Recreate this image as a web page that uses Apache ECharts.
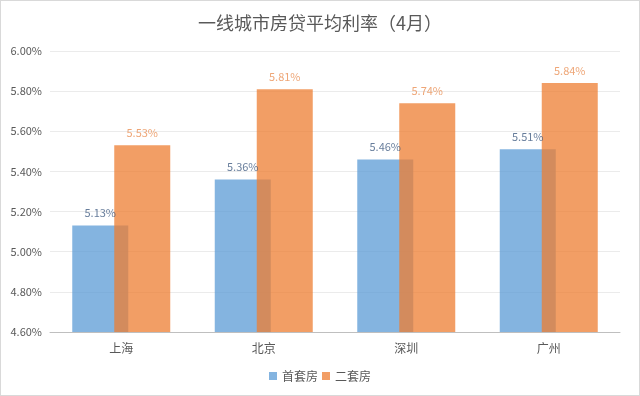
<!DOCTYPE html>
<html>
<head>
<meta charset="utf-8">
<script src="https://cdn.jsdelivr.net/npm/echarts@6/dist/echarts.min.js"></script>
<style>
html,body{margin:0;padding:0;background:#fff;}
#c{width:638px;height:394px;border:1px solid #d9d9d9;}
</style>
</head>
<body>
<div id="c"></div>
<script>
const categories = ['上海', '北京', '深圳', '广州'];
const firstHome = [5.13, 5.36, 5.46, 5.51];
const secondHome = [5.53, 5.81, 5.74, 5.84];
const seriesNames = ['首套房', '二套房'];
const yMin = 4.6, yMax = 6.0, yStep = 0.2;

const chart = echarts.init(document.getElementById('c'));
const font = '"Microsoft YaHei","Noto Sans CJK SC",sans-serif';
chart.setOption({
  animation: false,
  title: {
    text: '一线城市房贷平均利率（4月）',
    left: 'center', top: 8,
    textStyle: { color: '#595959', fontSize: 18, fontWeight: 'normal', fontFamily: font }
  },
  legend: {
    data: seriesNames, bottom: 8, itemWidth: 8, itemHeight: 8, itemGap: 4,
    icon: 'rect',
    textStyle: { color: '#595959', fontSize: 12, fontFamily: font }
  },
  grid: { left: 49, right: 19, top: 50, bottom: 63 },
  xAxis: {
    type: 'category', data: categories,
    axisLine: { lineStyle: { color: '#bfbfbf', width: 1 } },
    axisTick: { show: false },
    axisLabel: { color: '#595959', fontSize: 12, fontFamily: font, margin: 10 }
  },
  yAxis: {
    type: 'value', min: yMin, max: yMax, interval: yStep,
    axisLine: { show: false }, axisTick: { show: false },
    splitLine: { lineStyle: { color: '#ebebeb' } },
    axisLabel: { color: '#595959', fontSize: 11, fontFamily: font, margin: 8,
      formatter: v => v.toFixed(2) + '%' }
  },
  series: [
    {
      name: seriesNames[0], type: 'bar', data: firstHome,
      barWidth: 56, barGap: '-25%',
      itemStyle: { color: '#5b9bd5', opacity: 0.75 },
      label: { show: true, position: 'top', distance: 7, color: '#34517a', fontSize: 11,
        fontFamily: font, formatter: p => p.value.toFixed(2) + '%' }
    },
    {
      name: seriesNames[1], type: 'bar', data: secondHome,
      barWidth: 56, barGap: '-25%',
      itemStyle: { color: '#ed7d31', opacity: 0.75 },
      label: { show: true, position: 'top', distance: 7, color: '#e8884a', fontSize: 11,
        fontFamily: font, formatter: p => p.value.toFixed(2) + '%' }
    }
  ]
});
</script>
</body>
</html>
